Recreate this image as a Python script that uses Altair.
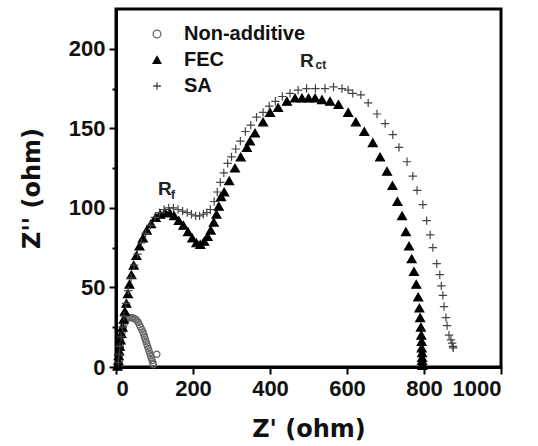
import altair as alt
import pandas as pd

series_names = ["Non-additive", "FEC", "SA"]

na_x = [8, 9, 10, 11, 12, 14, 16, 18, 21, 24, 27, 31, 35, 39, 43, 47, 51, 55, 58, 61,
        64, 67, 70, 72, 74, 76, 78, 80, 82, 84, 86, 88, 90, 92, 94, 96, 97, 106]
na_y = [1, 4, 8, 12, 15, 19, 22, 25, 27, 29, 30, 31, 31, 31, 31, 30.5, 30, 29, 28, 26.5,
        25, 23.5, 22, 20.5, 19, 17.5, 16, 14.5, 13, 11.5, 10, 8.5, 7, 5.5, 4, 2.5, 1.5, 8]

fec_x = [4, 5, 6, 7, 8, 10, 12, 14, 17, 20, 23, 27, 31, 35, 40, 46, 53, 61, 70, 80,
         91, 103, 115, 127, 139, 151, 163, 175, 187, 198, 209, 219, 229, 238, 246, 254, 261, 267, 273, 281,
         294, 309, 324, 340, 348, 361, 382, 400, 421, 444, 465, 483, 500, 517, 535, 556, 578, 603, 623, 645,
         667, 686, 704, 718, 731, 743, 753, 761, 768, 774, 780, 785, 788, 790, 792, 793, 794, 794, 795, 795,
         795, 796, 796]
fec_y = [0.5, 2, 4, 7, 10, 13, 17, 21, 25, 30, 35, 40, 46, 52, 58, 64, 70, 76, 81, 86,
         90, 94, 96, 97, 97, 95, 92, 89, 85, 81, 78, 77, 79, 82, 86, 91, 96, 101, 107, 110,
         117, 125, 132, 138, 142, 147, 154, 160, 163, 167, 169, 169, 169, 169, 168, 167, 165, 160, 154, 148,
         141, 132, 123, 114, 104, 95, 85, 76, 68, 60, 52, 44, 37, 31, 25, 20, 16, 12, 9, 6,
         4, 2, 1]

sa_x = [6, 8, 10, 13, 17, 21, 26, 32, 39, 47, 56, 66, 77, 89, 101, 113, 125, 137, 149, 161,
        173, 185, 196, 207, 217, 227, 236, 245, 255, 263, 271, 280, 290, 300, 311, 323, 336, 350, 365, 382,
        398, 414, 432, 452, 473, 495, 518, 543, 565, 587, 603, 615, 636, 655, 678, 699, 719, 735, 756, 771,
        782, 797, 807, 816, 823, 833, 841, 845, 849, 852, 857, 860, 865, 870, 873, 875, 876]
sa_y = [3, 8, 13, 19, 25, 32, 40, 48, 56, 64, 71, 78, 84, 89, 94, 97, 99, 100, 100, 99,
        98, 97, 96, 95, 95, 96, 97, 99, 104, 110, 116, 122, 128, 132, 137, 142, 148, 152, 157, 160,
        164, 167, 170, 172, 174, 175, 175, 175, 176, 175, 174, 172, 171, 166, 159, 153, 146, 138, 129, 120,
        111, 102, 92, 83, 75, 65, 58, 51, 45, 38, 31, 26, 20, 17, 15, 13, 12]

ann_text = ["R", "f", "R", "ct"]
ann_x = [127, 148, 496, 532]
ann_y = [112, 108, 192.5, 190]
ann_fs = [19, 12, 19, 12]

marker_sizes = {"Non-additive": 40, "FEC": 80, "SA": 70}
series_order = {"Non-additive": 0, "FEC": 1, "SA": 2}

rows = []
for name, xs, ys in [("Non-additive", na_x, na_y), ("FEC", fec_x, fec_y), ("SA", sa_x, sa_y)]:
    for x, y in zip(xs, ys):
        rows.append({"series": name, "zr": x, "zi": y,
                     "sz": marker_sizes[name], "ord": series_order[name]})
df = pd.DataFrame(rows)
ann = pd.DataFrame({"t": ann_text, "x": ann_x, "y": ann_y, "fs": ann_fs})

PLUS = "M-1,0L1,0M0,-1L0,1"

xscale = alt.Scale(domain=[0, 1000], nice=False, zero=False)
yscale = alt.Scale(domain=[0, 225], nice=False, zero=False)

xaxis = alt.Axis(
    values=list(range(0, 1001, 100)), format="d",
    labelExpr="datum.value % 200 === 0 ? datum.label : ''",
    tickSize={"condition": {"test": "datum.value % 200 === 0", "value": 7}, "value": 4},
    title="Z' (ohm)", grid=False,
)
yaxis = alt.Axis(
    values=list(range(0, 201, 25)), format="d",
    labelExpr="datum.value % 50 === 0 ? datum.label : ''",
    tickSize={"condition": {"test": "datum.value % 50 === 0", "value": 7}, "value": 4},
    title="Z'' (ohm)", grid=False,
)

leg = alt.Legend(title=None, orient="none", legendX=31, legendY=15, padding=0,
                 labelFont="Liberation Sans", labelFontSize=20, labelFontWeight="bold",
                 labelColor="#111111", symbolSize=60, symbolStrokeWidth=1.3,
                 rowPadding=6, labelOffset=17)

points = alt.Chart(df).mark_point(filled=False, strokeWidth=1.2, opacity=1).encode(
    x=alt.X("zr:Q", scale=xscale, axis=xaxis),
    y=alt.Y("zi:Q", scale=yscale, axis=yaxis),
    shape=alt.Shape("series:N",
                    scale=alt.Scale(domain=series_names, range=["circle", "triangle-up", PLUS]),
                    legend=leg),
    stroke=alt.Stroke("series:N",
                      scale=alt.Scale(domain=series_names, range=["#666666", "#000000", "#444444"]),
                      legend=leg),
    fill=alt.Fill("series:N",
                  scale=alt.Scale(domain=series_names, range=["transparent", "#000000", "transparent"]),
                  legend=leg),
    size=alt.Size("sz:Q", scale=None),
    order=alt.Order("ord:Q"),
)

labels = alt.Chart(ann).mark_text(
    font="Liberation Sans", fontWeight="bold", color="#222222", align="center", baseline="middle"
).encode(
    x=alt.X("x:Q", scale=xscale),
    y=alt.Y("y:Q", scale=yscale),
    text="t:N",
    size=alt.Size("fs:Q", scale=None),
)

chart = alt.layer(points, labels).properties(
    width=385, height=358,
    autosize=alt.AutoSizeParams(type="none"),
    padding={"left": 116, "top": 9, "right": 37, "bottom": 79},
    background="white",
).configure_view(
    stroke="black", strokeWidth=3
).configure_axis(
    domainColor="black", domainWidth=3, tickColor="black", tickWidth=2,
    labelFont="Liberation Sans", labelFontSize=22, labelFontWeight="bold", labelColor="#111111",
    titleFont="DejaVu Sans", titleFontSize=24, titleFontWeight="bold", titleColor="#111111",
    labelPadding=4,
).configure_axisX(
    titlePadding=18,
).configure_axisY(
    titlePadding=24,
)

chart.save("out.html", embed_options={"renderer": "svg", "actions": False})
